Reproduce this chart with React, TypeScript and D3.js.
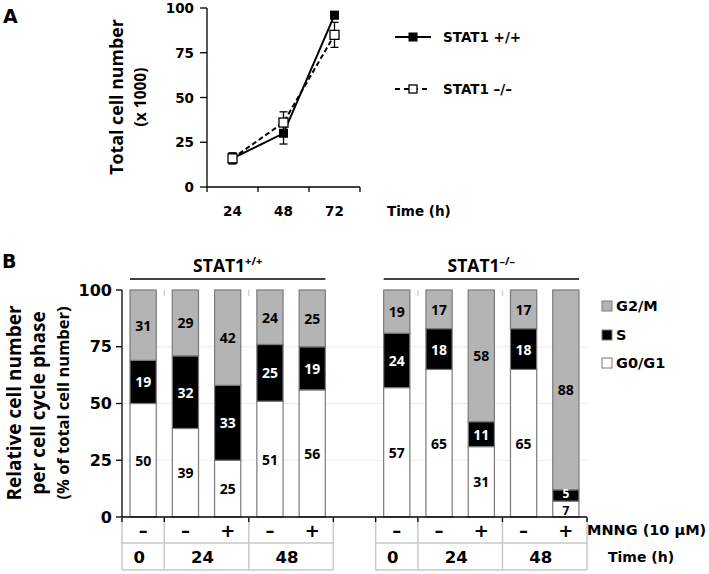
import React from "react";
import * as d3 from "d3";

// ---------- Panel A data ----------
const timesA = ["24", "48", "72"];
const wtMean = [16, 30, 96];
const wtErr = [3, 6, 2];
const koMean = [16, 36, 85];
const koErr = [3, 6, 7];
const yTicksA = [0, 25, 50, 75, 100];

// ---------- Panel B data ----------
const groups = ["STAT1", "STAT1"];
const groupSup = ["+/+", "\u2013/\u2013"];
const mnng = ["\u2013", "\u2013", "+", "\u2013", "+"];
const timeCells = ["0", "24", "48"];
const timeSpans = [1, 2, 2];
const g0g1 = [50, 39, 25, 51, 56, 57, 65, 31, 65, 7];
const sPhase = [19, 32, 33, 25, 19, 24, 18, 11, 18, 5];
const g2m = [31, 29, 42, 24, 25, 19, 17, 58, 17, 88];
const phases = ["G0/G1", "S", "G2/M"];
const yTicksB = [0, 25, 50, 75, 100];

const BOLD = "'DejaVu Sans', sans-serif";
const ROT = "'Open Sans', sans-serif";
const GRAY = "#b4b4b4";
const EDGE = "#7a7a7a";
const TABLE = "#c9c9c9";

const phaseFill: Record<string, string> = { "G0/G1": "#ffffff", S: "#000000", "G2/M": GRAY };

export default function App() {
  // Panel A scales
  const xA = d3.scaleBand<string>().domain(timesA).range([207, 360]);
  const yA = d3.scaleLinear().domain([0, 100]).range([187, 8]);
  const lineA = d3
    .line<number>()
    .x((_, i) => (xA(timesA[i]) as number) + xA.bandwidth() / 2)
    .y((d) => yA(d));

  // Panel B scales
  const slots = d3.range(11).map(String);
  const xB = d3.scaleBand<string>().domain(slots).range([122, 587]).paddingInner(0.38).paddingOuter(0.19);
  const step = xB.step();
  const yB = d3.scaleLinear().domain([0, 100]).range([517, 290]);
  const slotOf = (i: number) => (i < 5 ? i : i + 1);

  const rows = g0g1.map((_, i) => ({ "G0/G1": g0g1[i], S: sPhase[i], "G2/M": g2m[i] }));
  const stack = d3.stack<any>().keys(phases)(rows);

  const boundaries: number[] = [];
  [0, 6].forEach((g0) => {
    let acc = g0;
    boundaries.push(122 + acc * step);
    timeSpans.forEach((sp) => {
      acc += sp;
      boundaries.push(122 + acc * step);
    });
  });

  const squareA = 9;

  return (
    <svg width={709} height={574} style={{ position: "absolute", left: 0, top: 0, background: "#fff" }}>
      {/* ================= Panel A ================= */}
      <text x={3} y={23} fontFamily={BOLD} fontWeight="bold" fontSize={19}>A</text>
      <text
        transform="translate(116,97) rotate(-90)"
        textAnchor="middle"
        dominantBaseline="central"
        fontFamily={ROT}
        fontWeight="bold"
        fontSize={17.8}
      >
        Total cell number
      </text>
      <text
        transform="translate(140,97) rotate(-90)"
        textAnchor="middle"
        dominantBaseline="central"
        fontFamily={ROT}
        fontWeight="bold"
        fontSize={15.5}
      >
        (x 1000)
      </text>
      {/* axes */}
      <line x1={207} x2={207} y1={yA(100)} y2={yA(0)} stroke="#000" strokeWidth={1.3} />
      <line x1={207} x2={360} y1={yA(0)} y2={yA(0)} stroke="#000" strokeWidth={1.3} />
      {yTicksA.map((t) => (
        <g key={"ya" + t}>
          <line x1={200} x2={207} y1={yA(t)} y2={yA(t)} stroke="#000" strokeWidth={1.3} />
          <text x={194} y={yA(t)} textAnchor="end" dominantBaseline="central" fontFamily={BOLD} fontWeight="bold" fontSize={13.5}>
            {t}
          </text>
        </g>
      ))}
      {[...timesA.map((t) => xA(t) as number), 360].map((x, i) => (
        <line key={"xt" + i} x1={x} x2={x} y1={yA(0)} y2={yA(0) + 5} stroke="#000" strokeWidth={1.3} />
      ))}
      {timesA.map((t) => (
        <text key={"xl" + t} x={(xA(t) as number) + xA.bandwidth() / 2} y={216} textAnchor="middle" fontFamily={BOLD} fontWeight="bold" fontSize={13.5}>
          {t}
        </text>
      ))}
      <text x={387} y={216} fontFamily={BOLD} fontWeight="bold" fontSize={13.5}>Time (h)</text>
      {/* lines */}
      <path d={lineA(koMean) as string} fill="none" stroke="#000" strokeWidth={2} strokeDasharray="5,3" />
      <path d={lineA(wtMean) as string} fill="none" stroke="#000" strokeWidth={2} />
      {/* error bars */}
      {[
        { m: wtMean, e: wtErr },
        { m: koMean, e: koErr },
      ].map((s, si) =>
        s.m.map((v, i) => {
          const cx = (xA(timesA[i]) as number) + xA.bandwidth() / 2;
          return (
            <g key={"eb" + si + i} stroke="#000" strokeWidth={1.3}>
              <line x1={cx} x2={cx} y1={yA(v - s.e[i])} y2={yA(v + s.e[i])} />
              <line x1={cx - 4} x2={cx + 4} y1={yA(v - s.e[i])} y2={yA(v - s.e[i])} />
              <line x1={cx - 4} x2={cx + 4} y1={yA(v + s.e[i])} y2={yA(v + s.e[i])} />
            </g>
          );
        })
      )}
      {/* markers */}
      {wtMean.map((v, i) => {
        const cx = (xA(timesA[i]) as number) + xA.bandwidth() / 2;
        return <rect key={"wm" + i} x={cx - squareA / 2} y={yA(v) - squareA / 2} width={squareA} height={squareA} fill="#000" />;
      })}
      {koMean.map((v, i) => {
        const cx = (xA(timesA[i]) as number) + xA.bandwidth() / 2;
        return (
          <rect key={"km" + i} x={cx - squareA / 2} y={yA(v) - squareA / 2} width={squareA} height={squareA} fill="#fff" stroke="#000" strokeWidth={1.3} />
        );
      })}
      {/* legend A */}
      <line x1={395} x2={431} y1={37} y2={37} stroke="#000" strokeWidth={2} />
      <rect x={408.5} y={32.5} width={9} height={9} fill="#000" />
      <text x={443} y={37} dominantBaseline="central" fontFamily={BOLD} fontWeight="bold" fontSize={13.5}>STAT1 +/+</text>
      <line x1={395} x2={431} y1={89} y2={89} stroke="#000" strokeWidth={2} strokeDasharray="5,4" />
      <rect x={409} y={85} width={8} height={8} fill="#fff" stroke="#000" strokeWidth={1.3} />
      <text x={443} y={89} dominantBaseline="central" fontFamily={BOLD} fontWeight="bold" fontSize={13.5}>STAT1 {"\u2013/\u2013"}</text>

      {/* ================= Panel B ================= */}
      <text x={2} y={268} fontFamily={BOLD} fontWeight="bold" fontSize={19}>B</text>
      {["Relative cell number", "per cell cycle phase", "(% of total cell number)"].map((t, i) => (
        <text
          key={"yt" + i}
          transform={`translate(${[14, 38, 62][i]},403) rotate(-90)`}
          textAnchor="middle"
          dominantBaseline="central"
          fontFamily={ROT}
          fontWeight="bold"
          fontSize={i < 2 ? 19 : 16.5}
        >
          {t}
        </text>
      ))}
      {/* gridlines */}
      {[25, 50, 75].map((t) => (
        <line key={"gl" + t} x1={122} x2={587} y1={yB(t)} y2={yB(t)} stroke="#ececec" strokeWidth={1} />
      ))}
      {/* faint top marks at group boundaries */}
      {[boundaries[1], boundaries[2], boundaries[5], boundaries[6]].map((bx, k) => (
        <line key={"tm" + k} x1={bx} x2={bx} y1={290} y2={296} stroke="#cfcfcf" strokeWidth={1.3} />
      ))}
      {/* bars */}
      {stack.map((layer) =>
        layer.map((d, i) => {
          const x = xB(String(slotOf(i))) as number;
          return (
            <rect
              key={layer.key + i}
              x={x}
              y={yB(d[1])}
              width={xB.bandwidth()}
              height={yB(d[0]) - yB(d[1])}
              fill={phaseFill[layer.key]}
              stroke={EDGE}
              strokeWidth={1.2}
            />
          );
        })
      )}
      {stack.map((layer) =>
        layer.map((d, i) => {
          const x = (xB(String(slotOf(i))) as number) + xB.bandwidth() / 2;
          const v = d[1] - d[0];
          return (
            <text
              key={"lb" + layer.key + i}
              x={x}
              y={yB((d[0] + d[1]) / 2) + (v < 8 ? (layer.key === "S" ? -1.5 : 1.5) : 0)}
              textAnchor="middle"
              dominantBaseline="central"
              fontFamily={ROT}
              fontWeight="bold"
              fontSize={v < 8 ? 12 : 14}
              fill={layer.key === "S" ? "#fff" : "#000"}
            >
              {v}
            </text>
          );
        })
      )}
      {/* axes B */}
      <line x1={122} x2={122} y1={yB(100)} y2={yB(0)} stroke="#000" strokeWidth={1.3} />
      <line x1={122} x2={587} y1={yB(0)} y2={yB(0)} stroke="#000" strokeWidth={1.3} />
      {yTicksB.map((t) => (
        <g key={"yb" + t}>
          <line x1={116} x2={122} y1={yB(t)} y2={yB(t)} stroke="#000" strokeWidth={1.3} />
          <text x={112} y={yB(t)} textAnchor="end" dominantBaseline="central" fontFamily={BOLD} fontWeight="bold" fontSize={16}>
            {t}
          </text>
        </g>
      ))}
      {/* table */}
      {boundaries.map((x, i) => (
        <g key={"tb" + i}>
          <line x1={x} x2={x} y1={yB(0)} y2={570} stroke={TABLE} strokeWidth={1.5} />
          <line x1={x} x2={x} y1={yB(0)} y2={yB(0) + 5} stroke="#000" strokeWidth={1.3} />
        </g>
      ))}
      {[0, 1].map((g) => (
        <g key={"th" + g}>
          <line x1={122 + g * 6 * step} x2={122 + (g * 6 + 5) * step} y1={543} y2={543} stroke={TABLE} strokeWidth={1.5} />
          <line x1={122 + g * 6 * step} x2={122 + (g * 6 + 5) * step} y1={570} y2={570} stroke={TABLE} strokeWidth={1.5} />
        </g>
      ))}
      {g0g1.map((_, i) => (
        <text
          key={"mn" + i}
          x={(xB(String(slotOf(i))) as number) + xB.bandwidth() / 2}
          y={530}
          textAnchor="middle"
          dominantBaseline="central"
          fontFamily={BOLD}
          fontWeight="bold"
          fontSize={18}
        >
          {mnng[i % 5]}
        </text>
      ))}
      {[0, 1].map((g) =>
        timeCells.map((t, j) => {
          const start = g * 6 + d3.sum(timeSpans.slice(0, j));
          const cx = 122 + (start + timeSpans[j] / 2) * step - 4;
          return (
            <text key={"tc" + g + j} x={cx} y={557} textAnchor="middle" dominantBaseline="central" fontFamily={BOLD} fontWeight="bold" fontSize={16.5}>
              {t}
            </text>
          );
        })
      )}
      <text x={587} y={530} dominantBaseline="central" fontFamily={BOLD} fontWeight="bold" fontSize={14.5}>MNNG (10 µM)</text>
      <text x={608} y={557} dominantBaseline="central" fontFamily={BOLD} fontWeight="bold" fontSize={14}>Time (h)</text>
      {/* group headers */}
      {groups.map((gname, g) => {
        const x0 = xB(String(g * 6)) as number;
        const x1 = (xB(String(g * 6 + 4)) as number) + xB.bandwidth();
        const cx = (xB(String(g * 6 + 2)) as number) + xB.bandwidth() / 2;
        return (
          <g key={"gh" + g}>
            <line x1={x0} x2={x1} y1={279} y2={279} stroke="#000" strokeWidth={1.3} />
            <text x={cx} y={272} textAnchor="middle" fontFamily={ROT} fontWeight="bold" fontSize={17.5}>
              {gname}
              <tspan dy={-7} fontSize={11}>{groupSup[g]}</tspan>
            </text>
          </g>
        );
      })}
      {/* legend B */}
      {["G2/M", "S", "G0/G1"].map((p, i) => {
        const cy = [306, 335, 363][i];
        return (
          <g key={"lg" + p}>
            <rect x={602} y={cy - 5} width={10} height={10} fill={phaseFill[p]} stroke={EDGE} strokeWidth={1} />
            <text x={616} y={cy} dominantBaseline="central" fontFamily={BOLD} fontWeight="bold" fontSize={14.5}>
              {p}
            </text>
          </g>
        );
      })}
    </svg>
  );
}
